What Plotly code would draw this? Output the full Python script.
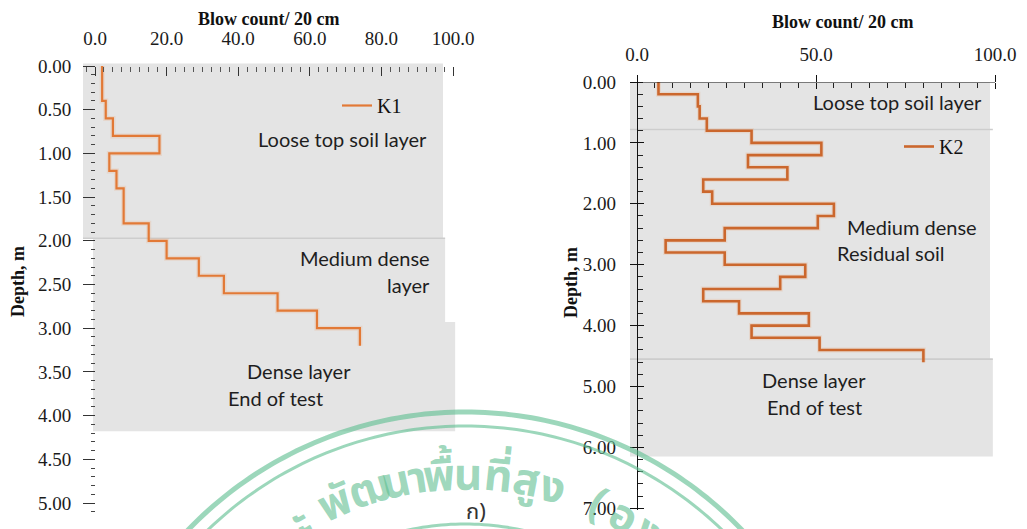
import math
import plotly.graph_objects as go

W, H = 1027, 529

# ---------------- data ----------------
# Borehole K1: top depth of each 0.2 m increment (plus final bottom) and blow counts
k1_depth = [0.0, 0.2, 0.4, 0.6, 0.8, 1.0, 1.2, 1.4, 1.6, 1.8, 2.0, 2.2, 2.4, 2.6, 2.8, 3.0, 3.2]
k1_blows = [2, 2, 3, 5, 18, 4, 6, 8, 8, 15, 20, 29, 36, 51, 62, 74]

# Borehole K2
k2_depth = [0.0, 0.2, 0.4, 0.6, 0.8, 1.0, 1.2, 1.4, 1.6, 1.8, 2.0, 2.2, 2.4, 2.6,
            2.8, 3.0, 3.2, 3.4, 3.6, 3.8, 4.0, 4.2, 4.4, 4.6]
k2_blows = [6, 17, 17.5, 19.5, 32, 51.5, 31, 42, 18.5, 21, 55, 50.5, 24.5, 8,
            24.5, 47, 40, 18.5, 28.5, 48, 32, 51, 80]

# Soil layer boundaries (depth, m)
k1_layer_bounds = [0.0, 1.97, 2.93, 4.18]
k2_layer_bounds = [0.0, 0.78, 4.55, 6.15]

x_ticks = [0, 20, 40, 60, 80, 100]
x_ticks_k2 = [0, 50, 100]

# ---------------- helpers ----------------
def px(x):
    return x / W


def py(y):
    return 1 - y / H


ORANGE_1 = "#E27936"
ORANGE_2 = "#CB672D"
GREY = "#E4E4E4"
EDGE = "#CDCDCD"
SERIF = "Liberation Serif"
SANS = "Lato"
THAI = "Noto Sans Thai, Loma, Garuda, Noto Sans, sans-serif"
tick_font = dict(family=SERIF, size=19, color="#1b1b1b")

fig = go.Figure()

# soft halo under the step lines, then the lines themselves
for depth, blows, name, col, xa, ya, lg, wdt in [
    (k1_depth, k1_blows, "K1", ORANGE_1, "x", "y", "legend", 2.2),
    (k2_depth, k2_blows, "K2", ORANGE_2, "x2", "y2", "legend2", 2.6),
]:
    xs = blows + [blows[-1]]
    fig.add_trace(go.Scatter(
        x=xs, y=depth, mode="lines", line=dict(color="rgba(240,150,90,0.18)", width=5, shape="vh"),
        xaxis=xa, yaxis=ya, showlegend=False, hoverinfo="skip"))
    fig.add_trace(go.Scatter(
        x=xs, y=depth, mode="lines", name=name, line=dict(color=col, width=wdt, shape="vh"),
        xaxis=xa, yaxis=ya, legend=lg))

# empty trace that carries the inward half of the K2 major ticks
fig.add_trace(go.Scatter(x=[], y=[], xaxis="x3", yaxis="y3", showlegend=False, hoverinfo="skip"))

# ---------------- soil layer panels ----------------
shapes = []
# left panel (K1)
k1_rects = [(-3.35, 97.2), (-0.56, 97.8), (-0.56, 100.6)]
for i, (xa0, xa1) in enumerate(k1_rects):
    y0 = k1_layer_bounds[i] - (0.03 if i == 0 else 0)
    shapes.append(dict(type="rect", xref="x", yref="y", x0=xa0, x1=xa1, y0=y0, y1=k1_layer_bounds[i + 1],
                       fillcolor=GREY, line=dict(width=0), layer="below"))
shapes.append(dict(type="line", xref="x", yref="y", x0=-3.35, x1=97.8, y0=k1_layer_bounds[1], y1=k1_layer_bounds[1],
                   line=dict(color=EDGE, width=1.6), layer="below"))

# right panel (K2)
k2_rects = [(-1.96, 98.6), (-1.96, 98.6), (-1.96, 99.4)]
for i, (xa0, xa1) in enumerate(k2_rects):
    shapes.append(dict(type="rect", xref="x2", yref="y2", x0=xa0, x1=xa1, y0=k2_layer_bounds[i],
                       y1=k2_layer_bounds[i + 1], fillcolor=GREY, line=dict(width=0), layer="below"))
for b in k2_layer_bounds[1:3]:
    shapes.append(dict(type="line", xref="x2", yref="y2", x0=-1.96, x1=99.4, y0=b, y1=b,
                       line=dict(color=EDGE, width=1.6), layer="below"))
# top axis line of the K2 panel
shapes.append(dict(type="line", xref="x2", yref="y2", x0=0, x1=100, y0=0, y1=0,
                   line=dict(color="#111111", width=1.2), layer="above"))

# ---------------- seal stamp (green) ----------------
SEAL = "rgba(95,190,145,0.62)"
scx, scy = 465, 796


def arc_path(r, a0=-62, a1=62, step=1.0):
    pts = []
    a = a0
    while a <= a1 + 1e-9:
        t = math.radians(a)
        pts.append((px(scx + r * math.sin(t)), py(scy - r * math.cos(t))))
        a += step
    return "M " + " L ".join(f"{x:.5f},{y:.5f}" for x, y in pts)


for r, w in [(384, 5), (370, 3), (272, 3)]:
    shapes.append(dict(type="path", xref="paper", yref="paper", path=arc_path(r),
                       line=dict(color=SEAL, width=w), layer="above"))

seal_glyphs = ["ะ", "พั", "ฒ", "น", "า", "พื้", "น", "ที่", "สู", "ง", "(", "อ", "ง", "ค์"]
seal_angles = [-30.8, -23.8, -17.3, -12.4, -8.6, -4.6, 0.6, 6.0, 11.0, 15.8, 24.5, 29.5, 35.0, 40.0]

annotations = []
for g, a in zip(seal_glyphs, seal_angles):
    t = math.radians(a)
    rr = 320
    annotations.append(dict(
        x=px(scx + rr * math.sin(t)), y=py(scy - rr * math.cos(t)), xref="paper", yref="paper",
        text=f"<b>{g}</b>", showarrow=False, textangle=a, xanchor="center", yanchor="middle",
        font=dict(family=THAI, size=44, color=SEAL)))

# ---------------- text annotations ----------------
def note(x, y, text, size=20, family=SANS, bold=False, angle=0, xanchor="center", color="#1e1e1e"):
    if bold:
        text = f"<b>{text}</b>"
    annotations.append(dict(x=px(x), y=py(y), xref="paper", yref="paper", text=text, showarrow=False,
                            xanchor=xanchor, yanchor="middle", textangle=angle,
                            font=dict(family=family, size=size, color=color)))


# axis titles
note(269, 19, "Blow count/ 20 cm", size=18, family=SERIF, bold=True, color="#111")
note(843, 22, "Blow count/ 20 cm", size=18, family=SERIF, bold=True, color="#111")
note(18, 282, "Depth, m", size=18, family=SERIF, bold=True, angle=-90, color="#111")
note(571, 283, "Depth, m", size=18, family=SERIF, bold=True, angle=-90, color="#111")

# layer labels, K1
note(342, 139, "Loose top soil layer")
note(432, 258, "Medium dense", xanchor="right")
note(432, 285, "layer", xanchor="right")
note(299, 371, "Dense layer")
note(275, 398, "End of test")

# layer labels, K2
note(897, 102, "Loose top soil layer")
note(912, 227, "Medium dense")
note(891, 253, "Residual soil")
note(814, 380, "Dense layer")
note(814, 407, "End of test")

# panel caption
note(476, 512, "ก)", size=22, family=THAI, color="#333")

# ---------------- axes ----------------
k1_scale = 3.58  # px per blow
k2_xrange = [-9 / 3.58, -9 / 3.58 + 368 / 3.58]
k2_yrange = [(510 - 82) / 60.9, 0]
fig.update_layout(
    width=W, height=H, margin=dict(l=0, r=0, t=0, b=0, autoexpand=False),
    paper_bgcolor="white", plot_bgcolor="rgba(0,0,0,0)",
    shapes=shapes, annotations=annotations,
    xaxis=dict(domain=[px(83), px(457)], range=[-12 / k1_scale, -12 / k1_scale + 374 / k1_scale],
               side="top", anchor="free", position=py(66), showline=False, showgrid=False, zeroline=False,
               automargin=False,
               tickvals=x_ticks, tickformat=".1f", ticks="inside", ticklen=9, tickwidth=1, tickcolor="#333",
               ticklabelstandoff=17, tickfont=tick_font,
               minor=dict(dtick=2.5, ticks="inside", ticklen=5, tickwidth=1, tickcolor="#555", showgrid=False)),
    yaxis=dict(domain=[py(512), py(62)], range=[(512 - 66) / 87.4, -4 / 87.4],
               anchor="free", position=px(95), showline=False, showgrid=False, zeroline=False,
               automargin=False,
               tick0=0, dtick=0.5, tickformat=".2f", ticks="outside", ticklen=12, tickwidth=1.2, tickcolor="#333",
               ticklabelstandoff=8, tickfont=tick_font,
               minor=dict(dtick=0.1, ticks="outside", ticklen=4, tickwidth=1, tickcolor="#444", showgrid=False)),
    xaxis2=dict(domain=[px(628), px(996)], range=k2_xrange,
                side="top", anchor="free", position=py(82), showline=False, showgrid=False, zeroline=False,
                automargin=False,
                tickvals=x_ticks_k2, tickformat=".1f", ticks="outside", ticklen=7, tickwidth=1.2, tickcolor="#111",
                ticklabelstandoff=6, tickfont=tick_font,
                minor=dict(dtick=5, ticks="inside", ticklen=5, tickwidth=1, tickcolor="#222", showgrid=False)),
    yaxis2=dict(domain=[py(510), py(82)], range=k2_yrange,
                anchor="free", position=px(637), showline=True, linecolor="#111", linewidth=1.2,
                showgrid=False, zeroline=False, automargin=False,
                tick0=0, dtick=1, tickformat=".2f", ticks="outside", ticklen=7, tickwidth=1.2, tickcolor="#111",
                ticklabelstandoff=10, tickfont=tick_font,
                minor=dict(dtick=0.2, ticks="inside", ticklen=5, tickwidth=1, tickcolor="#222", showgrid=False)),
    # twin axes: inward halves of the crossing major ticks on the K2 panel
    xaxis3=dict(overlaying="x2", range=k2_xrange, side="top", anchor="free", position=py(82),
                showline=False, showgrid=False, zeroline=False, automargin=False, showticklabels=False,
                tickvals=x_ticks_k2, ticks="inside", ticklen=6, tickwidth=1.2, tickcolor="#111"),
    yaxis3=dict(overlaying="y2", range=k2_yrange, anchor="free", position=px(637),
                showline=False, showgrid=False, zeroline=False, automargin=False, showticklabels=False,
                tick0=0, dtick=1, ticks="inside", ticklen=6, tickwidth=1.2, tickcolor="#111"),
    legend=dict(x=px(337), y=py(86), xanchor="left", yanchor="top", bgcolor="rgba(0,0,0,0)",
                font=dict(family=SERIF, size=20, color="#111"), itemwidth=30, tracegroupgap=0),
    legend2=dict(x=px(899), y=py(127), xanchor="left", yanchor="top", bgcolor="rgba(0,0,0,0)",
                 font=dict(family=SERIF, size=20, color="#111"), itemwidth=30, tracegroupgap=0),
)

fig.write_html("out.html", post_script="document.body.style.margin='0';document.body.style.overflow='hidden';")
